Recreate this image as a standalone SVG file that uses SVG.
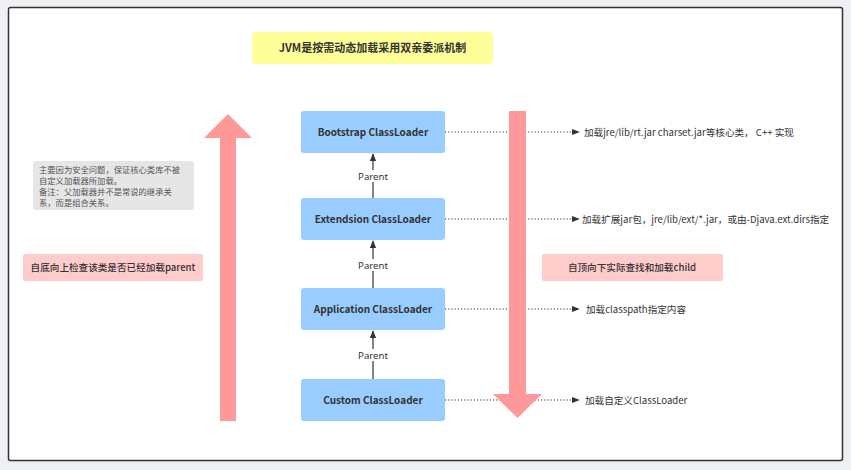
<svg xmlns="http://www.w3.org/2000/svg" width="851" height="470" viewBox="0 0 851 470">
<defs>
<style>
.node rect{fill:#99ccff;}
.node text{font-family:"Noto Sans CJK SC","Noto Sans",sans-serif;font-size:10px;font-weight:bold;fill:#333;text-anchor:middle;}
.lbl{font-family:"Noto Sans CJK SC","Noto Sans",sans-serif;font-size:9.6px;fill:#333;}
.plbl{font-family:"Noto Sans",sans-serif;font-size:9.6px;fill:#333;text-anchor:middle;}
.dot{stroke:#333;stroke-width:1.2;stroke-dasharray:1.2 2;fill:none;}
.par{stroke:#333;stroke-width:1.2;fill:none;}
.big{fill:#ff9999;}
</style>
<marker id="ah" viewBox="0 0 10 10" refX="9" refY="5" markerWidth="8" markerHeight="8" markerUnits="userSpaceOnUse" orient="auto"><path d="M0,1 L10,5 L0,9 Z" fill="#333"/></marker>
</defs>
<rect x="0" y="0" width="851" height="470" fill="#eef0f4"/>
<rect x="8.5" y="7.5" width="834" height="453" rx="2" fill="#fff" stroke="#333" stroke-width="1.5"/>

<g id="title">
<rect x="252" y="32" width="241" height="32" rx="4" fill="#ffff99"/>
<text x="372.5" y="52" text-anchor="middle" font-family="Noto Sans CJK SC,sans-serif" font-size="11" font-weight="bold" fill="#333">JVM是按需动态加载采用双亲委派机制</text>
</g>

<g id="note">
<rect x="33" y="161" width="161" height="49" rx="3" fill="#e6e6e6"/>
<text font-family="Noto Sans CJK SC,sans-serif" font-size="8.3" fill="#555">
<tspan x="39" y="173">主要因为安全问题，保证核心类库不被</tspan>
<tspan x="39" y="184">自定义加载器所加载。</tspan>
<tspan x="39" y="195">备注：父加载器并不是常说的继承关</tspan>
<tspan x="39" y="206">系，而是组合关系。</tspan>
</text>
</g>

<g id="lbl-up">
<rect x="23" y="254" width="180" height="27" rx="2" fill="#ffcccc"/>
<text x="113" y="271" text-anchor="middle" class="lbl" font-weight="500">自底向上检查该类是否已经加载parent</text>
</g>
<g id="lbl-down">
<rect x="542" y="254" width="181" height="27" rx="2" fill="#ffcccc"/>
<text x="632" y="271" text-anchor="middle" class="lbl" font-weight="500">自顶向下实际查找和加载child</text>
</g>

<g id="connectors">
<line class="par" x1="373" y1="198" x2="373" y2="154" marker-end="url(#ah)"/>
<line class="par" x1="373" y1="288" x2="373" y2="241" marker-end="url(#ah)"/>
<line class="par" x1="373" y1="379" x2="373" y2="331" marker-end="url(#ah)"/>
<rect x="355" y="170" width="36" height="12" fill="#fff"/>
<text class="plbl" x="373" y="180">Parent</text>
<rect x="355" y="259" width="36" height="12" fill="#fff"/>
<text class="plbl" x="373" y="269">Parent</text>
<rect x="355" y="349" width="36" height="12" fill="#fff"/>
<text class="plbl" x="373" y="359">Parent</text>
<line class="dot" x1="445" y1="132" x2="579" y2="132" marker-end="url(#ah)"/>
<line class="dot" x1="445" y1="219" x2="579" y2="219" marker-end="url(#ah)"/>
<line class="dot" x1="445" y1="309" x2="579" y2="309" marker-end="url(#ah)"/>
<line class="dot" x1="445" y1="400" x2="579" y2="400" marker-end="url(#ah)"/>
<text class="lbl" x="584" y="136">加载jre/lib/rt.jar charset.jar等核心类， C++ 实现</text>
<text class="lbl" x="582" y="223">加载扩展jar包，jre/lib/ext/*.jar，或由-Djava.ext.dirs指定</text>
<text class="lbl" x="586" y="313">加载classpath指定内容</text>
<text class="lbl" x="585" y="404">加载自定义ClassLoader</text>
</g>

<g id="arrow-up">
<path class="big" d="M220,421 L236,421 L236,138 L252,138 L228,114 L204,138 L220,138 Z"/>
</g>
<g id="arrow-down">
<path class="big" d="M509,111 L526,111 L526,394 L542,394 L517.5,418 L493,394 L509,394 Z"/>
</g>

<g id="bootstrap" class="node"><rect x="301" y="111" width="144" height="42" rx="3"/><text x="373" y="136">Bootstrap ClassLoader</text></g>
<g id="extension" class="node"><rect x="301" y="198" width="144" height="42" rx="3"/><text x="373" y="223">Extendsion ClassLoader</text></g>
<g id="application" class="node"><rect x="301" y="288" width="144" height="42" rx="3"/><text x="373" y="313">Application ClassLoader</text></g>
<g id="custom" class="node"><rect x="301" y="379" width="144" height="42" rx="3"/><text x="373" y="404">Custom ClassLoader</text></g>
</svg>
